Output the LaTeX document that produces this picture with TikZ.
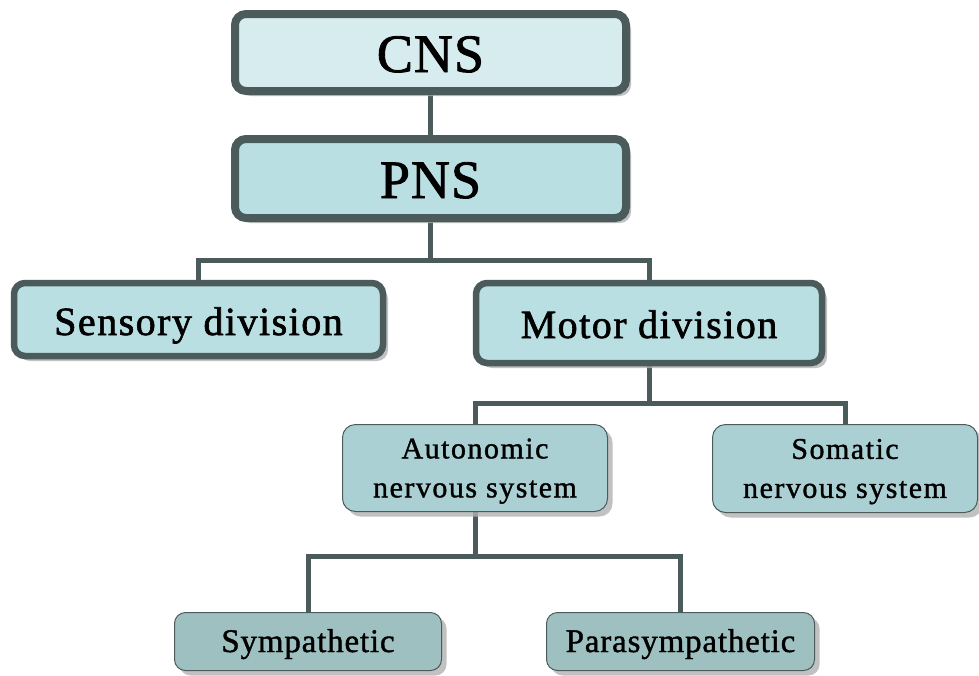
\documentclass[tikz,border=0pt]{standalone}
\usepackage{fontspec}
\setmainfont{Liberation Serif}
\newfontfamily\fA{Liberation Serif}[FakeBold=1.6, LetterSpace=2]
\newfontfamily\fB{Liberation Serif}[FakeBold=1.6, LetterSpace=3.7]
\newfontfamily\fC{Liberation Serif}[FakeBold=1.2, LetterSpace=5]
\newfontfamily\fD{Liberation Serif}[FakeBold=1.2, LetterSpace=2.5]
\usetikzlibrary{shadows,backgrounds}
\definecolor{edge}{HTML}{4B5A5A}
\definecolor{fillA}{HTML}{D7ECEF}
\definecolor{fillB}{HTML}{B9DFE3}
\definecolor{fillC}{HTML}{ABD0D3}
\definecolor{fillD}{HTML}{9FC0C1}
\tikzset{
  base/.style={rectangle, rounded corners=11pt, draw=edge, inner sep=0pt, align=center, text=black,
    drop shadow={shadow xshift=5pt, shadow yshift=-5pt, fill=black!30, opacity=0.8}},
  topbox/.style={base, line width=8pt, fill=fillA, minimum width=391pt, minimum height=77pt,
    font=\fA\fontsize{54}{60}\selectfont, text height=39pt, text depth=0pt},
  pnsbox/.style={topbox, fill=fillB, minimum height=79pt},
  divbox/.style={base, line width=6.5pt, fill=fillB, font=\fB\fontsize{40}{48}\selectfont,
    text height=31pt, text depth=0pt},
  sysbox/.style={base, line width=1pt, rounded corners=13pt, fill=fillC, minimum width=265pt, minimum height=87pt,
    font=\fC\fontsize{30}{39}\selectfont},
  leafbox/.style={base, line width=1pt, rounded corners=11pt, fill=fillD, minimum width=267pt, minimum height=58pt,
    font=\fD\fontsize{33}{36}\selectfont, text height=21pt, text depth=0pt},
  conn/.style={draw=edge, line width=5pt}
}
\begin{document}
\begin{tikzpicture}[x=1pt,y=-1pt]
\useasboundingbox (0,0) rectangle (979,675);
\node[topbox] (cns) at (430.5,52.5) {CNS};
\node[pnsbox] (pns) at (430.5,178.5) {PNS};
\node[divbox, minimum width=369pt, minimum height=73pt] (sens) at (198.5,319.5) {Sensory division};
\node[divbox, minimum width=346pt, minimum height=80pt, text height=30pt] (mot) at (649,323) {Motor division};
\node[sysbox] (auto) at (475,468) {\rule{0pt}{0.87em}Autonomic\\nervous system};
\node[sysbox, minimum height=88pt] (soma) at (845,468.5) {\rule{0pt}{0.87em}Somatic\\nervous system};
\node[leafbox] (symp) at (308,641.5) {Sympathetic};
\node[leafbox, minimum width=268pt] (para) at (680.5,641.5) {Parasympathetic};
\coordinate (j1) at (430.5,260);
\coordinate (j2) at (649,403);
\coordinate (j3) at (475,556);
\begin{scope}[on background layer]
\draw[conn] (cns.south) -- (pns.north);
\draw[conn] (pns.south) -- (j1);
\draw[conn] (sens.north) |- (j1) -| (mot.north);
\draw[conn] (mot.south) -- (j2);
\draw[conn] (auto.north) |- (j2) -| (soma.north);
\draw[conn] (auto.south) -- (j3);
\draw[conn] (symp.north) |- (j3) -| (para.north);
\end{scope}
\end{tikzpicture}
\end{document}
